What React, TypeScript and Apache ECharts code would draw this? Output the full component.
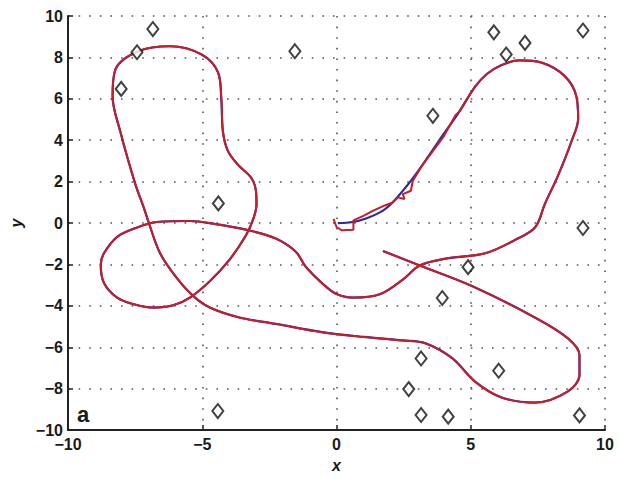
import React, { useEffect, useRef } from "react";
import * as echarts from "echarts";

// Landmarks (diamonds)
const landmarks: [number, number][] = [
  [-6.84, 9.37], [-7.43, 8.25], [-8.02, 6.48], [-1.55, 8.3], [-4.4, 0.95],
  [-4.42, -9.08], [5.86, 9.21], [7.02, 8.7], [6.32, 8.14], [9.18, 9.3],
  [3.59, 5.18], [9.18, -0.24], [4.9, -2.13], [3.94, -3.62], [3.15, -6.54],
  [6.04, -7.13], [2.69, -8.02], [3.15, -9.27], [4.16, -9.35], [9.05, -9.29],
];

// Blue (true) trajectory start segment
const blueStart: [number, number][] = [
  [0.05, 0.0], [0.6, 0.05], [1.1, 0.22], [1.73, 0.6], [2.2, 1.15], [2.95, 2.35],
  [3.84, 4.02], [4.57, 5.37],
];

// Red (estimated) noisy start segment
const redStart: [number, number][] = [
  [-0.11, 0.2], [0.0, -0.19], [0.2, -0.35], [0.63, -0.32], [0.63, 0.13],
  [1.0, 0.35], [1.37, 0.6], [1.8, 0.85], [2.1, 1.0], [2.29, 1.24], [2.53, 1.16],
  [2.47, 1.4], [2.77, 1.56], [2.84, 2.03], [3.2, 2.8], [3.58, 3.46], [4.0, 4.2],
  [4.43, 5.21], [4.57, 5.37],
];

// Shared trajectory body
const body: [number, number][] = [
  [4.57, 5.37], [5.17, 6.6], [5.6, 7.2], [6.1, 7.6], [6.8, 7.86], [7.64, 7.75],
  [8.49, 7.11], [8.93, 6.14], [9.0, 5.05], [8.75, 3.94], [8.27, 2.35], [7.76, 0.92],
  [7.4, -0.2], [6.66, -0.81], [5.54, -1.46], [4.06, -1.72], [3.1, -2.05],
  [2.47, -2.73], [1.61, -3.44], [0.63, -3.6], [0.0, -3.43], [-0.55, -2.89],
  [-1.15, -2.1], [-1.52, -1.38], [-2.26, -0.75], [-3.37, -0.32], [-4.5, -0.05],
  [-5.46, 0.1], [-6.69, 0.05], [-7.5, -0.25], [-8.17, -0.67], [-8.66, -1.46],
  [-8.78, -2.0], [-8.66, -2.89], [-8.17, -3.6], [-7.55, -3.92], [-6.82, -4.08],
  [-6.08, -3.97], [-5.46, -3.6], [-4.72, -2.81], [-3.99, -1.78], [-3.37, -0.59],
  [-3.1, 0.2], [-2.98, 0.9], [-3.0, 1.56], [-3.18, 2.19], [-3.68, 2.83],
  [-4.05, 3.5], [-4.23, 4.41], [-4.29, 6.0], [-4.41, 7.27], [-5.02, 8.14],
  [-6.2, 8.54], [-7.38, 8.3], [-8.23, 7.43], [-8.34, 6.14], [-8.05, 4.41],
  [-7.49, 1.87], [-7.18, 0.76], [-7.0, 0.05], [-6.57, -1.46], [-5.95, -2.65],
  [-5.34, -3.52], [-4.72, -4.08], [-3.62, -4.56], [-2.26, -4.87], [-0.54, -5.27],
  [1.0, -5.5], [2.47, -5.67], [3.32, -5.81], [4.32, -6.54], [5.17, -7.67],
  [6.16, -8.43], [7.4, -8.67], [8.62, -8.13], [9.05, -7.33], [9.05, -6.38],
  [8.62, -5.57], [7.4, -4.57], [5.06, -3.05], [3.1, -2.05], [1.73, -1.35],
];

const xTicks = [-10, -5, 0, 5, 10];
const yTicks = [-10, -8, -6, -4, -2, 0, 2, 4, 6, 8, 10];

const fmt = (v: number) => (v < 0 ? "\u2212" + Math.abs(v) : String(v));
const FONT = "'Liberation Sans', Arial, Helvetica, sans-serif";

export default function App() {
  const ref = useRef<HTMLDivElement>(null);
  useEffect(() => {
    if (!ref.current) return;
    const chart = echarts.init(ref.current, undefined, { renderer: "svg" });
    const gridLine = {
      show: true,
      lineStyle: { color: "#555", width: 1.6, type: [1.6, 9] as any },
    };
    const axisLabel = {
      color: "#1a1a1a",
      fontSize: 16,
      fontWeight: "bold" as const,
      fontFamily: FONT,
      formatter: (v: number) => fmt(v),
    };
    chart.setOption({
      animation: false,
      backgroundColor: "#fff",
      grid: { left: 63, top: 16, width: 542, height: 420 },
      xAxis: {
        type: "value",
        min: xTicks[0],
        max: xTicks[xTicks.length - 1],
        interval: 5,
        axisLine: { show: true, onZero: false, lineStyle: { color: "#222", width: 2 } },
        axisTick: { show: true, inside: true, length: 5, lineStyle: { color: "#222", width: 1.5 } },
        axisLabel: { ...axisLabel, margin: 6 },
        splitLine: gridLine,
        name: "x",
        nameLocation: "middle",
        nameGap: 26,
        nameTextStyle: { fontSize: 16, fontWeight: "bold", fontStyle: "italic", fontFamily: FONT, color: "#1a1a1a" },
      },
      yAxis: {
        type: "value",
        min: yTicks[0],
        max: yTicks[yTicks.length - 1],
        interval: 2,
        axisLine: { show: true, onZero: false, lineStyle: { color: "#222", width: 2 } },
        axisTick: { show: true, inside: true, length: 5, lineStyle: { color: "#222", width: 1.5 } },
        axisLabel: { ...axisLabel, margin: 5 },
        splitLine: gridLine,
        name: "y",
        nameLocation: "middle",
        nameGap: 44,
        nameTextStyle: { fontSize: 16, fontWeight: "bold", fontStyle: "italic", fontFamily: FONT, color: "#1a1a1a" },
      },
      graphic: [
        {
          type: "text",
          left: 77,
          top: 403,
          style: { text: "a", fontSize: 22, fontWeight: "bold", fontFamily: FONT, fill: "#1a1a1a" },
        },
      ],
      series: [
        {
          type: "line",
          data: blueStart.concat(body.slice(1)),
          smooth: 0.35,
          showSymbol: false,
          lineStyle: { color: "#2b2b9c", width: 2.2 },
          z: 2,
        },
        {
          type: "line",
          data: redStart,
          smooth: false,
          showSymbol: false,
          lineStyle: { color: "#c81c28", width: 2 },
          z: 3,
        },
        {
          type: "line",
          data: body,
          smooth: 0.35,
          showSymbol: false,
          lineStyle: { color: "#c81c28", width: 2 },
          z: 3,
        },
        {
          type: "scatter",
          data: landmarks,
          symbol: "diamond",
          symbolSize: [11, 14],
          itemStyle: { color: "#fff", borderColor: "#111", borderWidth: 2 },
          z: 4,
        },
      ],
    });
    return () => chart.dispose();
  }, []);
  return (
    <div
      ref={ref}
      style={{ position: "fixed", left: 0, top: 0, width: 619, height: 478 }}
    />
  );
}
